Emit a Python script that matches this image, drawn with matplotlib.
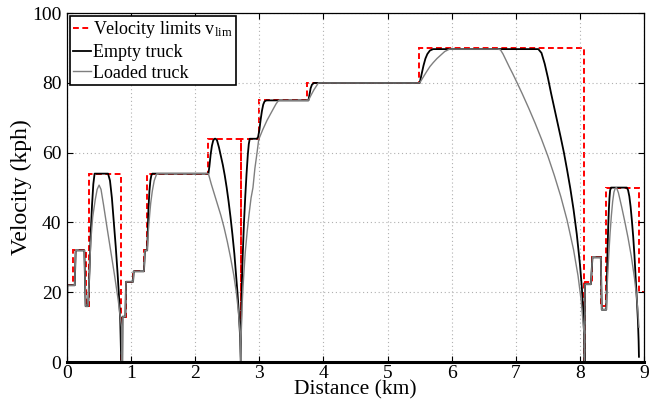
import numpy as np
import matplotlib
matplotlib.use("Agg")
import matplotlib.pyplot as plt

# --- speed limit profile along the haul route (step edges in km, limits in kph) ---
limit_edges = [0, 0.10, 0.30, 0.345, 0.845, 0.852, 0.92, 1.035, 1.205, 1.253,
               2.20, 2.71, 2.716, 2.995, 3.74, 5.49, 8.07, 8.076, 8.19, 8.33,
               8.40, 8.92, 9.0]
limit_levels = [22, 32, 16, 54, 0, 13, 23, 26, 32, 54,
                64, 0, 64, 75, 80, 90, 0, 23, 30, 16,
                50, 20]

# --- empty truck velocity profile ---
empty_x = [0, 0.005, 0.12, 0.135, 0.27, 0.29, 0.33, 0.35, 0.37, 0.39, 0.41, 0.43,
           0.64, 0.67, 0.70, 0.73, 0.76, 0.79, 0.81, 0.83, 0.845, 0.86, 0.865,
           0.91, 0.92, 1.03, 1.04, 1.20, 1.215, 1.25, 1.26, 1.27, 1.285, 1.30,
           1.315, 1.331, 2.205, 2.22, 2.24, 2.26, 2.28, 2.30, 2.32, 2.34, 2.37,
           2.40, 2.43, 2.46, 2.49, 2.52, 2.55, 2.58, 2.61, 2.64, 2.66, 2.68,
           2.70, 2.71, 2.712, 2.716, 2.72, 2.73, 2.74, 2.76, 2.78, 2.80, 2.82,
           2.835, 2.85, 2.96, 2.98, 3.00, 3.02, 3.04, 3.06, 3.08, 3.11, 3.765,
           3.78, 3.80, 3.82, 3.85, 5.50, 5.53, 5.56, 5.59, 5.62, 5.66, 5.71,
           7.35, 7.40, 7.45, 7.50, 7.55, 7.60, 7.65, 7.70, 7.75, 7.80, 7.85,
           7.90, 7.95, 8.00, 8.03, 8.05, 8.065, 8.07, 8.074, 8.078, 8.17, 8.195,
           8.325, 8.34, 8.41, 8.42, 8.43, 8.44, 8.45, 8.46, 8.47, 8.485, 8.73,
           8.75, 8.77, 8.79, 8.81, 8.83, 8.85, 8.87, 8.89, 8.905, 8.915, 8.92]
empty_v = [0, 22, 22, 32, 32, 16, 16, 26, 37, 45, 51, 54,
           54, 52, 47, 40, 33, 25, 19, 12, 0, 0, 13,
           13, 23, 23, 26, 26, 32, 32, 38, 44, 49, 52,
           53.5, 54, 54, 56, 59.5, 62, 63.5, 64, 64, 63.5, 61.5,
           59, 56.5, 53.5, 50, 46, 41.5, 36.5, 31, 24, 19.5, 14,
           7, 0, 0, 11.5, 16, 24.5, 30.5, 40, 47.5, 54, 59.5,
           62.5, 64, 64, 64.5, 66.5, 69.5, 72, 73.8, 74.7, 75, 75,
           76.5, 78.5, 79.5, 80, 80, 82.5, 85, 87, 88.3, 89.3, 89.7,
           89.7, 88.6, 85.5, 81.5, 77, 72.8, 68.6, 64.4, 60, 55, 49.7,
           43.7, 36.7, 28, 21.2, 15, 7.5, 0, 0, 22.3, 22.3, 30,
           30, 15, 15, 24, 32, 38.5, 43.5, 47, 49.2, 50, 50,
           49.3, 47.5, 44.5, 40.5, 36, 30.5, 24, 17, 11.5, 6, 1.5]

# --- loaded truck velocity profile ---
loaded_x = [0, 0.005, 0.12, 0.135, 0.27, 0.29, 0.33, 0.35, 0.37, 0.40, 0.44, 0.47,
            0.50, 0.53, 0.57, 0.62, 0.68, 0.74, 0.80, 0.85, 0.852, 0.866, 0.87,
            0.91, 0.92, 1.03, 1.04, 1.20, 1.215, 1.25, 1.27, 1.29, 1.305, 1.33,
            1.36, 1.40, 2.205, 2.25, 2.30, 2.35, 2.40, 2.45, 2.50, 2.55, 2.60,
            2.64, 2.67, 2.69, 2.70, 2.71, 2.712, 2.715, 2.72, 2.73, 2.745, 2.76,
            2.78, 2.81, 2.84, 2.87, 2.90, 2.93, 2.96, 2.99, 3.05, 3.12, 3.20,
            3.26, 3.30, 3.765, 3.80, 3.85, 3.92, 5.50, 5.56, 5.61, 5.66, 5.71,
            5.77, 5.83, 5.89, 5.965, 6.72, 6.76, 6.80, 6.85, 6.90, 6.95, 7.00,
            7.10, 7.20, 7.30, 7.40, 7.50, 7.60, 7.70, 7.80, 7.90, 7.97, 8.02,
            8.05, 8.065, 8.068, 8.074, 8.078, 8.17, 8.195, 8.325, 8.34, 8.41,
            8.43, 8.45, 8.47, 8.49, 8.51, 8.53, 8.55, 8.57, 8.60, 8.65, 8.70,
            8.75, 8.80, 8.85, 8.88, 8.90, 8.92]
loaded_v = [0, 22, 22, 32, 32, 16, 16, 26, 34.5, 41.5, 46.5, 49.5,
            50.7, 49.5, 45, 39, 32, 25, 17.5, 10, 0, 0, 13,
            13, 23, 23, 26, 26, 32, 32, 38, 42.5, 45.5, 49,
            52, 54, 54, 51, 48, 45, 42, 38.5, 34.5, 30, 25,
            20, 15, 10.5, 7.5, 0, 0, 6.5, 10.5, 16, 21.5, 26,
            31.5, 37.5, 42.5, 47, 50, 55.5, 59.5, 63.8, 66.5, 69.3, 72,
            74, 75, 75, 76.3, 78, 80, 80, 81.8, 83.3, 84.7, 85.8,
            87, 88, 89, 89.7, 89.7, 89.5, 88.3, 86.4, 84.5, 82.7, 80.8,
            76.9, 72.8, 68.5, 63.9, 59, 53.5, 47.5, 40.6, 32.2, 24.7, 17.5,
            11, 8, 0, 0, 22.3, 22.3, 30, 30, 15, 15,
            24, 31, 37, 42, 46, 48.7, 49.8, 50, 48.5, 44.5, 40.2,
            35.6, 30.4, 24.1, 19.3, 15.4, 10]

plt.rcParams['font.family'] = 'serif'
plt.rcParams['font.serif'] = ['Liberation Serif', 'DejaVu Serif']
plt.rcParams['mathtext.fontset'] = 'custom'
plt.rcParams['mathtext.rm'] = 'Liberation Serif'
plt.rcParams['mathtext.it'] = 'Liberation Serif:italic'

fig = plt.figure(figsize=(6.61, 4.08), dpi=100)
ax = fig.add_axes([0.1014, 0.1127, 0.873, 0.855])

ax.stairs(limit_levels, limit_edges, baseline=None, color='red',
          linestyle=(0, (3, 1.8)), linewidth=1.4,
          label=r'Velocity limits v$_{\rm lim}$')
ax.plot(empty_x, empty_v, color='black', linewidth=1.3, label='Empty truck')
ax.plot(loaded_x, loaded_v, color='#7f7f7f', linewidth=1.0, label='Loaded truck')

ax.set_xlim(0, 9)
ax.set_ylim(0, 100)
ax.set_xticks(np.arange(0, 10, 1))
ax.set_yticks(np.arange(0, 101, 20))
ax.grid(True, color='#b0b0b0', linestyle=(0, (1, 2.5)), linewidth=0.8)
ax.tick_params(direction='in', top=True, right=True, labelsize=14,
               length=4, width=0.8)
ax.tick_params(axis='x', pad=2)
ax.tick_params(axis='y', pad=4)
for side in ['left', 'right', 'top']:
    ax.spines[side].set_linewidth(0.9)
ax.spines['bottom'].set_linewidth(2.2)

ax.set_xlabel('Distance (km)', fontsize=15.5, labelpad=-1)
ax.set_ylabel('Velocity (kph)', fontsize=17, labelpad=0)

leg = ax.legend(loc='upper left', fontsize=13, handlelength=1.0,
                handletextpad=0.08, borderaxespad=0.15, borderpad=0.2,
                labelspacing=0.2, fancybox=False, framealpha=1)
leg.get_frame().set_edgecolor('black')
leg.get_frame().set_linewidth(1.2)

fig.savefig('out.png', dpi=100)
